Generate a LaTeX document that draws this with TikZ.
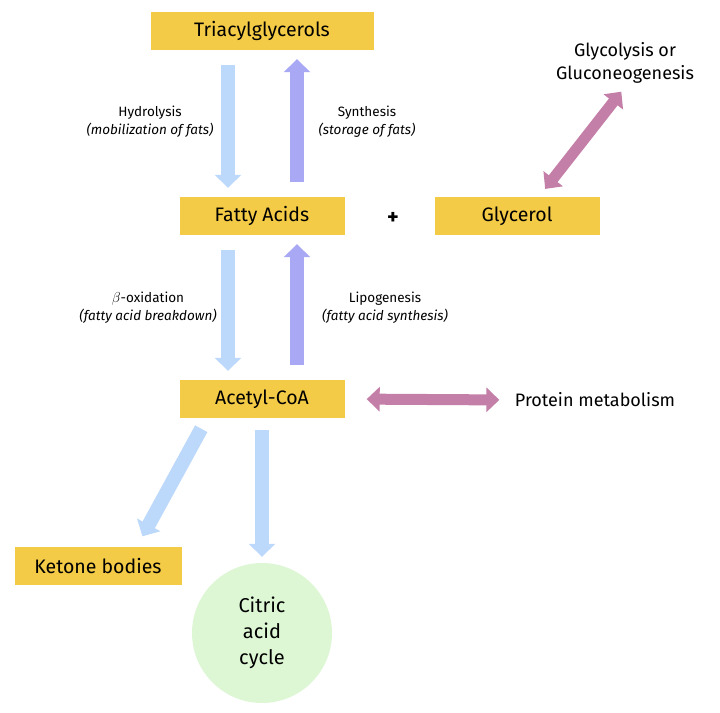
\documentclass[tikz,border=0pt]{standalone}
\usepackage{fontspec}
\setmainfont{Fira Sans}
\usetikzlibrary{arrows.meta}
\definecolor{boxgold}{HTML}{F3CB47}
\definecolor{downblue}{HTML}{BCD8FA}
\definecolor{upviolet}{HTML}{A8A8F4}
\definecolor{linkpink}{HTML}{C47FA8}
\definecolor{cyclegreen}{HTML}{DDF7D5}
\tikzset{
    lipid/.style={fill=boxgold, minimum height=38pt, inner xsep=4pt, font=\fontsize{19.5}{22}\selectfont},
    note/.style={font=\fontsize{13.5}{18}\selectfont, align=center},
    flow/.style={line width=14pt, -{Triangle[width=26pt,length=13pt]}, shorten <=15pt, shorten >=9pt},
    swap/.style={line width=11pt, {Triangle[width=24pt,length=13pt]}-{Triangle[width=24pt,length=13pt]}, draw=linkpink}
}
\begin{document}
\begin{tikzpicture}[x=1pt, y=-1pt]
    \useasboundingbox (0,0) rectangle (720,712);

    % Boxes
    \node[lipid, minimum width=223pt] (tag) at (262,31) {Triacylglycerols};
    \node[lipid, minimum width=165pt] (fa) at (262,216) {Fatty Acids};
    \node[lipid, minimum width=165pt] (gly) at (517,216) {Glycerol};
    \node[lipid, minimum width=165pt] (acoa) at (262,399) {Acetyl-CoA};
    \node[lipid, minimum width=167pt] (ket) at (98,566) {Ketone bodies};
    \node[circle, fill=cyclegreen, minimum size=140pt, align=center,
          font=\fontsize{20}{26}\selectfont] (tca) at (262,633) {Citric\\acid\\cycle};

    % Plain texts
    \node[font=\fontsize{22}{24}\selectfont\bfseries] (plus) at (393,218) {+};
    \node[note, font=\fontsize{18}{23}\selectfont] (glc) at (625,63) {Glycolysis or\\Gluconeogenesis};
    \node[font=\fontsize{18}{22}\selectfont] (prot) at (595,400) {Protein metabolism};

    % Labels on the arrows
    \node[note] (hyd) at (150,122) {Hydrolysis\\\textit{(mobilization of fats)}};
    \node[note] (syn) at (367,122) {Synthesis\\\textit{(storage of fats)}};
    \node[note] (box) at (148,308) {$\beta$-oxidation\\\textit{(fatty acid breakdown)}};
    \node[note] (lip) at (385,308) {Lipogenesis\\\textit{(fatty acid synthesis)}};

    % Up and down arrows
    \draw[flow, draw=downblue] ([xshift=-34pt]tag.south) -- ([xshift=-34pt]fa.north);
    \draw[flow, draw=upviolet] ([xshift=35pt]fa.north) -- ([xshift=35pt]tag.south);
    \draw[flow, draw=downblue] ([xshift=-34pt]fa.south) -- ([xshift=-34pt]acoa.north);
    \draw[flow, draw=upviolet] ([xshift=35pt]acoa.north) -- ([xshift=35pt]fa.south);
    \draw[flow, draw=downblue, shorten <=12pt, shorten >=12pt] ([xshift=-55pt]acoa.south) -- ([xshift=-45pt]ket.north east);
    \draw[flow, draw=downblue, shorten <=12pt, shorten >=6pt] (acoa.south) -- (tca.north);

    % Double arrows
    \draw[swap, shorten <=10pt, shorten >=6pt] ([xshift=22pt]gly.north) -- (glc.south);
    \draw[swap, shorten <=22pt, shorten >=12pt] (acoa.east) -- (prot.west);
\end{tikzpicture}
\end{document}
